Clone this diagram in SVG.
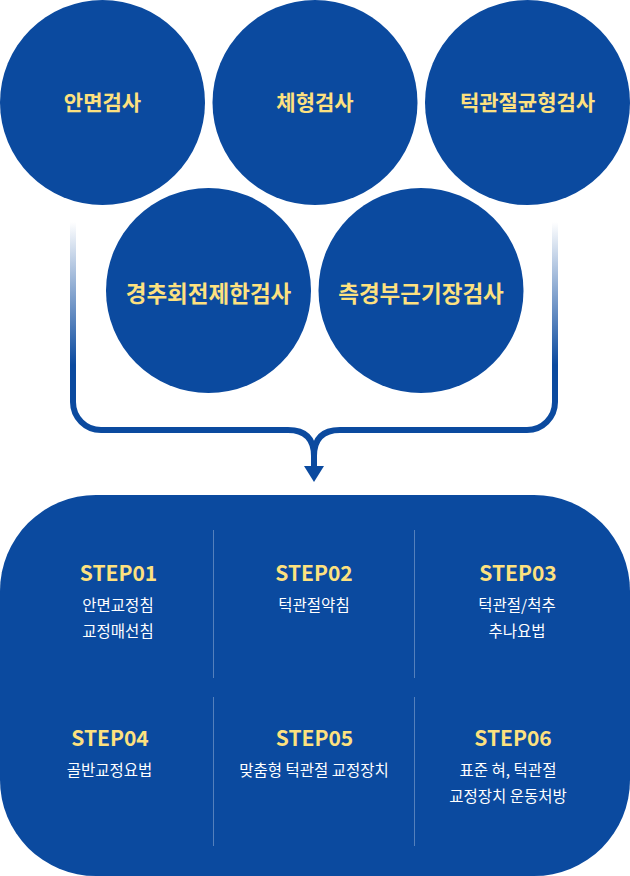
<svg xmlns="http://www.w3.org/2000/svg" width="630" height="876" viewBox="0 0 630 876">
  <defs>
    <linearGradient id="fadeL" gradientUnits="userSpaceOnUse" x1="0" y1="222" x2="0" y2="365">
      <stop offset="0" stop-color="#0b4a9f" stop-opacity="0"/>
      <stop offset="1" stop-color="#0b4a9f" stop-opacity="1"/>
    </linearGradient>
  </defs>
  <style>
    .circ { fill: #0b4a9f; }
    .ctitle { font-family: "Noto Sans CJK KR", "Noto Sans", sans-serif; font-weight: 700; fill: #fde17f; text-anchor: middle; }
    .step { font-family: "Noto Sans CJK KR", "Noto Sans", sans-serif; font-weight: 700; font-size: 21px; fill: #fde17f; text-anchor: middle; }
    .desc { font-family: "Noto Sans CJK KR", "Noto Sans", sans-serif; font-weight: 400; font-size: 15.5px; fill: #ffffff; text-anchor: middle; }
    .div { stroke: #ffffff; stroke-opacity: 0.3; stroke-width: 1; }
    .conn { fill: none; stroke-width: 6; stroke-linejoin: round; }
  </style>

  <g id="connectors">
    <path class="conn" stroke="url(#fadeL)" d="M73,222 V402 A28,28 0 0 0 101,430 H288 Q314,430 314,456 V470"/>
    <path class="conn" stroke="url(#fadeL)" d="M555,222 V402 A28,28 0 0 1 527,430 H340 Q314,430 314,456 V470"/>
    <polygon points="304,466 324,466 314,482" fill="#0b4a9f"/>
  </g>

  <g id="node-anmyeon">
    <circle class="circ" cx="102.5" cy="102.5" r="102.5"/>
    <text class="ctitle" x="102.5" y="110" font-size="21">안면검사</text>
  </g>
  <g id="node-chehyeong">
    <circle class="circ" cx="315" cy="102.5" r="102.5"/>
    <text class="ctitle" x="315" y="110" font-size="21">체형검사</text>
  </g>
  <g id="node-tmj-balance">
    <circle class="circ" cx="527.5" cy="102.5" r="102.5"/>
    <text class="ctitle" x="527.5" y="110" font-size="21">턱관절균형검사</text>
  </g>
  <g id="node-cervical-rotation">
    <circle class="circ" cx="208.5" cy="290.5" r="102.5"/>
    <text class="ctitle" x="208.5" y="302" font-size="22.5">경추회전제한검사</text>
  </g>
  <g id="node-lateral-neck">
    <circle class="circ" cx="421" cy="290.5" r="102.5"/>
    <text class="ctitle" x="421" y="302" font-size="22.5">측경부근기장검사</text>
  </g>

  <g id="steps-box">
    <rect x="0" y="495" width="630" height="381" rx="96" ry="96" fill="#0b4a9f"/>
    <line class="div" x1="213.5" y1="530" x2="213.5" y2="678"/>
    <line class="div" x1="414.5" y1="530" x2="414.5" y2="678"/>
    <line class="div" x1="213.5" y1="697" x2="213.5" y2="846"/>
    <line class="div" x1="414.5" y1="697" x2="414.5" y2="846"/>
  </g>

  <g id="step01">
    <text class="step" x="118.5" y="581">STEP01</text>
    <text class="desc" x="118" y="611">안면교정침</text>
    <text class="desc" x="118" y="637">교정매선침</text>
  </g>
  <g id="step02">
    <text class="step" x="314" y="581">STEP02</text>
    <text class="desc" x="314" y="611">턱관절약침</text>
  </g>
  <g id="step03">
    <text class="step" x="518" y="581">STEP03</text>
    <text class="desc" x="517" y="611">턱관절/척추</text>
    <text class="desc" x="517" y="637">추나요법</text>
  </g>
  <g id="step04">
    <text class="step" x="110" y="746">STEP04</text>
    <text class="desc" x="109.5" y="776">골반교정요법</text>
  </g>
  <g id="step05">
    <text class="step" x="314.5" y="746">STEP05</text>
    <text class="desc" x="314" y="776">맞춤형 턱관절 교정장치</text>
  </g>
  <g id="step06">
    <text class="step" x="513" y="746">STEP06</text>
    <text class="desc" x="508" y="776">표준 혀, 턱관절</text>
    <text class="desc" x="508" y="802">교정장치 운동처방</text>
  </g>
</svg>
